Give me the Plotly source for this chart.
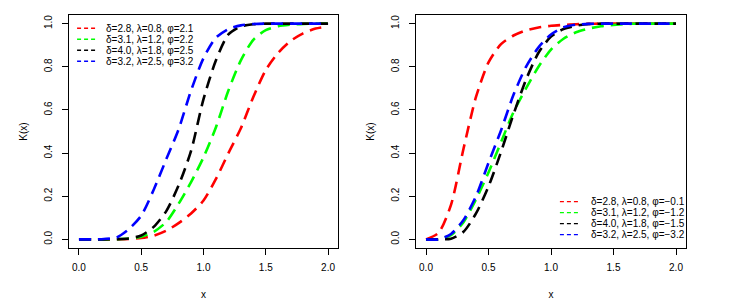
import plotly.graph_objects as go

# ---------------- data ----------------
x_vals = [0.0, 0.1, 0.2, 0.3, 0.4, 0.5, 0.6, 0.7, 0.8, 0.9, 1.0,
          1.1, 1.2, 1.3, 1.4, 1.5, 1.6, 1.7, 1.8, 1.9, 2.0]

# left panel
left_red = [0, 0, 0, 0.0005, 0.002, 0.006, 0.017, 0.04, 0.075, 0.12, 0.18,
            0.28, 0.40, 0.515, 0.66, 0.785, 0.865, 0.92, 0.955, 0.977, 0.987]
left_green = [0, 0, 0, 0.001, 0.004, 0.012, 0.035, 0.08, 0.165, 0.265, 0.38,
              0.52, 0.69, 0.83, 0.925, 0.97, 0.988, 0.995, 0.999, 1, 1]
left_black = [0, 0, 0, 0.001, 0.004, 0.018, 0.058, 0.13, 0.25, 0.41, 0.65,
              0.83, 0.95, 0.987, 0.997, 1, 1, 1, 1, 1, 1]
left_blue = [0, 0, 0.002, 0.008, 0.047, 0.11, 0.23, 0.37, 0.51, 0.69, 0.84,
             0.935, 0.975, 0.992, 0.998, 1, 1, 1, 1, 1, 1]

# right panel
right_red = [0, 0.03, 0.16, 0.42, 0.66, 0.82, 0.905, 0.945, 0.969, 0.982, 0.99,
             0.994, 0.997, 0.999, 1, 1, 1, 1, 1, 1, 1]
right_green = [0, 0.001, 0.02, 0.08, 0.185, 0.31, 0.45, 0.59, 0.70, 0.80, 0.88,
               0.93, 0.96, 0.977, 0.988, 0.994, 0.998, 1, 1, 1, 1]
right_black = [0, 0, 0.003, 0.035, 0.12, 0.245, 0.405, 0.58, 0.74, 0.865, 0.94,
               0.975, 0.99, 0.998, 1, 1, 1, 1, 1, 1, 1]
right_blue = [0, 0, 0.025, 0.09, 0.20, 0.355, 0.505, 0.67, 0.80, 0.89, 0.95,
              0.983, 0.995, 0.999, 1, 1, 1, 1, 1, 1, 1]

left_labels = ["δ=2.8, λ=0.8, φ=2.1", "δ=3.1, λ=1.2, φ=2.2",
               "δ=4.0, λ=1.8, φ=2.5", "δ=3.2, λ=2.5, φ=3.2"]
right_labels = ["δ=2.8, λ=0.8, φ=−0.1", "δ=3.1, λ=1.2, φ=−1.2",
                "δ=4.0, λ=1.8, φ=−1.5", "δ=3.2, λ=2.5, φ=−3.2"]

x_ticks = [0.0, 0.5, 1.0, 1.5, 2.0]
x_ticklabels = ["0.0", "0.5", "1.0", "1.5", "2.0"]
y_ticks = [0.0, 0.2, 0.4, 0.6, 0.8, 1.0]
y_ticklabels = ["0.0", "0.2", "0.4", "0.6", "0.8", "1.0"]

colors = ["#FF0000", "#00FF00", "#000000", "#0000FF"]

# ---------------- figure ----------------
FONT = "Liberation Sans, Arial, Helvetica, sans-serif"
W, H = 729, 307
OFF = 8  # page body margin

fig = go.Figure()

panels = [
    ("x", "y", [left_red, left_green, left_black, left_blue]),
    ("x2", "y2", [right_red, right_green, right_black, right_blue]),
]
for xa, ya, series in panels:
    for vals, col in zip(series, colors):
        fig.add_trace(go.Scatter(
            x=x_vals, y=vals, xaxis=xa, yaxis=ya, mode="lines",
            line=dict(color=col, width=2.6, dash="12px,7px", shape="spline", smoothing=0.7),
            showlegend=False, hoverinfo="skip"))

axis_common = dict(
    showgrid=False, zeroline=False, showline=True, mirror=True,
    linecolor="black", linewidth=1, ticks="outside", ticklen=6,
    tickcolor="black", tickwidth=1,
    tickfont=dict(family=FONT, size=10, color="black"),
)

fig.update_layout(
    width=W, height=H,
    margin=dict(l=0, r=0, t=15 - OFF, b=H - (248 - OFF)),
    paper_bgcolor="white", plot_bgcolor="white",
    font=dict(family=FONT, size=10, color="black"),
    xaxis=dict(domain=[(69 - OFF) / W, (338 - OFF) / W], range=[-0.08, 2.08],
               tickvals=x_ticks, ticktext=x_ticklabels, ticklabelstandoff=4,
               title=dict(text="x", standoff=18, font=dict(size=10)), **axis_common),
    yaxis=dict(domain=[0, 1], range=[-0.04, 1.04], anchor="x",
               tickvals=y_ticks, ticktext=y_ticklabels, tickangle=-90, ticklabelstandoff=6,
               title=dict(text="K(x)", standoff=13, font=dict(size=10)), **axis_common),
    xaxis2=dict(domain=[(416 - OFF) / W, (686 - OFF) / W], range=[-0.08, 2.08], anchor="y2",
                tickvals=x_ticks, ticktext=x_ticklabels, ticklabelstandoff=4,
                title=dict(text="x", standoff=18, font=dict(size=10)), **axis_common),
    yaxis2=dict(domain=[0, 1], range=[-0.04, 1.04], anchor="x2",
                tickvals=y_ticks, ticktext=y_ticklabels, tickangle=-90, ticklabelstandoff=6,
                title=dict(text="K(x)", standoff=13, font=dict(size=10)), **axis_common),
)

# ---------------- manual legends (R style) ----------------
def add_legend(xref, yref, labels, x0, x1, xt, y_rows):
    for lab, col, yy in zip(labels, colors, y_rows):
        fig.add_shape(type="line", xref=xref, yref=yref, x0=x0, x1=x1, y0=yy, y1=yy,
                      line=dict(color=col, width=1.4, dash="4px,3px"))
        fig.add_annotation(xref=xref, yref=yref, x=xt, y=yy, text=lab, showarrow=False,
                           xanchor="left", yanchor="middle",
                           font=dict(family=FONT, size=10, color="black"))

step = 11 / 233
add_legend("x domain", "y domain", left_labels, 0.030, 0.097, 0.130,
           [0.943 - i * step for i in range(4)])
add_legend("x2 domain", "y2 domain", right_labels, 0.533, 0.600, 0.640,
           [0.199 - i * step for i in range(4)])

fig.write_html("out.html")
